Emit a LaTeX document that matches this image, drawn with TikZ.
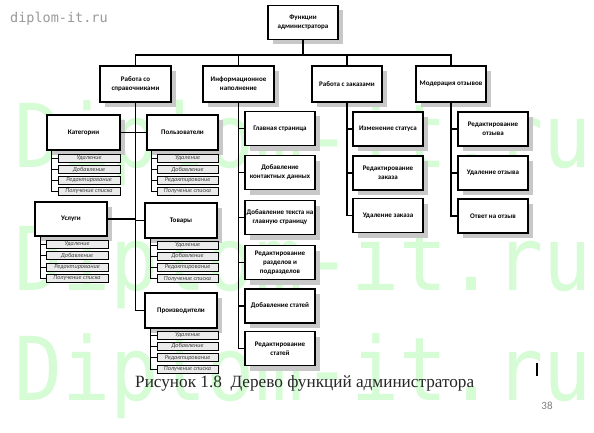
\documentclass[tikz,border=0pt]{standalone}
\usepackage{fontspec}
\setmainfont{Liberation Serif}
\newfontfamily\boxfont{Carlito}
\newfontfamily\wmfont{DejaVu Sans Mono}
\usetikzlibrary{shadows}
\definecolor{wmgreen}{RGB}{214,252,214}
\definecolor{shadowgrey}{RGB}{200,200,200}
\begin{document}
\begin{tikzpicture}[x=1pt,y=-1pt,
  mainbox/.style={draw, line width=1.5pt, fill=white, minimum width=70pt, minimum height=34pt,
    inner sep=1pt, align=center, font=\boxfont\bfseries\fontsize{7}{9.2}\selectfont,
    drop shadow={shadow xshift=5pt, shadow yshift=-5pt, fill=shadowgrey, opacity=1}},
  subbox/.style={draw, line width=0.6pt, fill=black!8, minimum width=62pt, minimum height=8pt,
    inner sep=0pt, font=\boxfont\itshape\fontsize{6.2}{6.5}\selectfont, text=black!75},
  conn/.style={line width=1.1pt},
  wmark/.style={anchor=base west, inner sep=0pt, text=wmgreen, font=\wmfont\fontsize{80}{80}\selectfont, yscale=1.1}]
\useasboundingbox (0,0) rectangle (594,433);
\fill[white] (0,0) rectangle (594,433);
% watermark
\node[wmark] (wm1) at (14,167) {Diplom-it.ru};
\node[wmark] (wm2) at (14,290) {Diplom-it.ru};
\node[wmark] (wm3) at (14,400) {Diplom-it.ru};
\node[anchor=west, inner sep=0pt, text=black!40, font=\wmfont\fontsize{13.5}{14}\selectfont] (site) at (10,19) {diplom-it.ru};
% root and level 1
\node[mainbox] (root) at (303,22.5) {Функции\\администратора};
\node[mainbox, minimum width=71pt, minimum height=36pt] (A) at (135.5,84) {Работа со\\справочниками};
\node[mainbox, minimum width=71pt, minimum height=36pt] (B) at (238.5,84) {Информационное\\наполнение};
\node[mainbox, minimum height=36pt] (C) at (347,84) {Работа с заказами};
\node[mainbox, minimum height=36pt] (D) at (451,84) {Модерация отзывов};
% reference books
\node[mainbox, minimum width=73pt, minimum height=35pt] (kat) at (83.5,132.5) {Категории};
\node[mainbox, minimum width=71pt, minimum height=35pt] (pol) at (182.5,132.5) {Пользователи};
\node[mainbox, minimum width=72pt] (usl) at (71,219) {Услуги};
\node[mainbox, minimum width=72pt, minimum height=35pt] (tov) at (181,220.5) {Товары};
\node[mainbox, minimum width=72pt, minimum height=35pt] (prz) at (181,310.5) {Производители};
\foreach \t [count=\i] in {Удаление,Добавление,Редактирование,Получение списка}{
  \node[subbox] (kat\i) at (89,{147.5+11*\i}) {\t};
  \node[subbox, minimum width=61pt] (pol\i) at (187.5,{147.5+11*\i}) {\t};
  \node[subbox] (usl\i) at (77,{232.5+11.5*\i}) {\t};
  \node[subbox, minimum width=61pt] (tov\i) at (187.5,{233.8+11.2*\i}) {\t};
  \node[subbox, minimum width=61pt] (prz\i) at (187.5,{323.7+11.3*\i}) {\t};
}
\coordinate (katv) at ([xshift=5pt]kat.south west);
\coordinate (polv) at ([xshift=5pt]pol.south west);
\coordinate (uslv) at ([xshift=6pt]usl.south west);
\coordinate (tovv) at ([xshift=6pt]tov.south west);
\coordinate (przv) at ([xshift=6pt]prz.south west);
\foreach \i in {1,...,4}{
  \draw[line width=0.6pt] (katv) |- (kat\i.west);
  \draw[line width=0.6pt] (polv) |- (pol\i.west);
  \draw[line width=0.6pt] (uslv) |- (usl\i.west);
  \draw[line width=0.6pt] (tovv) |- (tov\i.west);
  \draw[line width=0.6pt] (przv) |- (prz\i.west);
}
% information content
\node[mainbox] (inf1) at (280,128.5) {Главная страница};
\node[mainbox] (inf2) at (280,172.5) {Добавление\\контактных данных};
\node[mainbox] (inf3) at (280,217.5) {Добавление текста на\\главную страницу};
\node[mainbox] (inf4) at (280,262.5) {Редактирование\\разделов и\\подразделов};
\node[mainbox] (inf5) at (280,306) {Добавление статей};
\node[mainbox] (inf6) at (280,348.5) {Редактирование\\статей};
% orders
\node[mainbox] (ord1) at (388,129) {Изменение статуса};
\node[mainbox] (ord2) at (388,173) {Редактирование\\заказа};
\node[mainbox] (ord3) at (388,215.5) {Удаление заказа};
% reviews
\node[mainbox] (rev1) at (493,129) {Редактирование\\отзыва};
\node[mainbox] (rev2) at (493,173) {Удаление отзыва};
\node[mainbox] (rev3) at (493,216) {Ответ на отзыв};
% connectors
\coordinate (busy) at (0,55);
\draw[conn] (root.south) -- (root.south |- busy);
\draw[conn] (A.north) -- (A.north |- busy) -- (D.north |- busy) -- (D.north);
\draw[conn] (B.north) -- (B.north |- busy);
\draw[conn] (C.north) -- (C.north |- busy);
\draw[conn] (A.south) |- (prz.west);
\draw[conn] (kat.east) -- (pol.west);
\draw[conn] (usl.east) -- (A.south |- usl.east);
\draw[conn] (A.south |- tov.west) -- (tov.west);
\foreach \i in {1,...,6}{\draw[conn] (B.south) |- (inf\i.west);}
\foreach \i in {1,...,3}{\draw[conn] (C.south) |- (ord\i.west);
  \draw[conn] (D.south) |- (rev\i.west);}
% caption
\node[anchor=base west, inner sep=0pt, font=\fontsize{17.2}{20}\selectfont, text=black!85] (cap) at (135,387) {Рисунок 1.8\ \ Дерево функций администратора};
\coordinate (cur1) at (537,363);
\coordinate (cur2) at (537,376);
\draw[line width=1.2pt] (cur1) -- (cur2);
\node[inner sep=0pt, text=black!50, font=\boxfont\fontsize{11}{12}\selectfont] (page) at (547,406) {38};
\end{tikzpicture}
\end{document}
